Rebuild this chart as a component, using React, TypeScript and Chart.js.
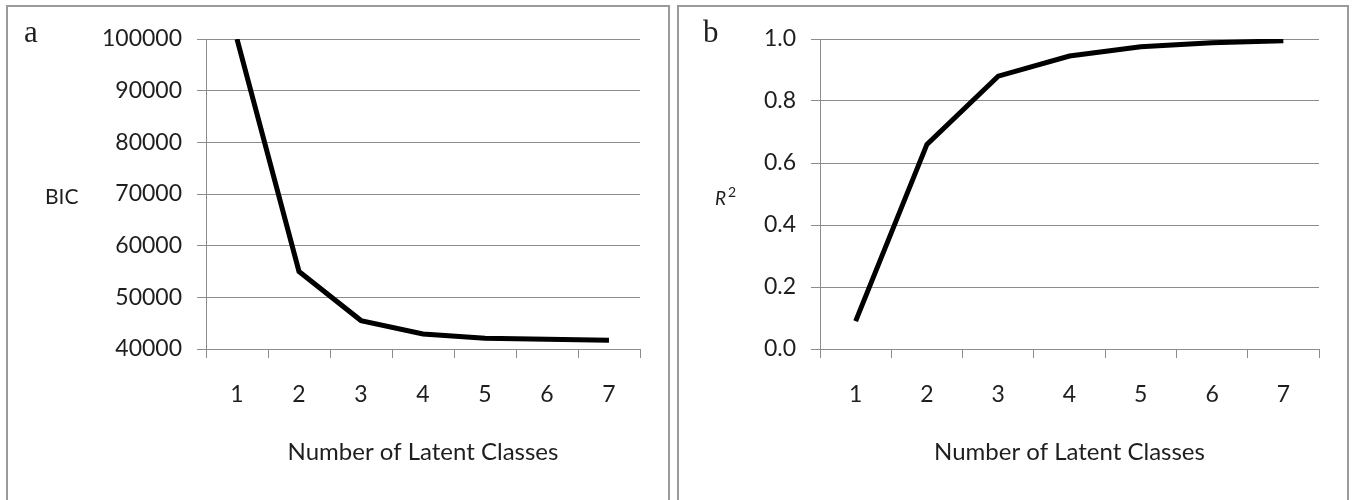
import React, { useEffect, useRef } from "react";
import { Chart, registerables } from "chart.js";

Chart.register(...registerables);

// ---- data ----
const classLabels = ["1", "2", "3", "4", "5", "6", "7"];
const bicValues = [100000, 55000, 45500, 42900, 42100, 41900, 41700];
const r2Values = [0.09, 0.66, 0.88, 0.945, 0.975, 0.988, 0.994];
const bicRange = { min: 40000, max: 100000, step: 10000 };
const r2Range = { min: 0, max: 1, step: 0.2 };
const xTitle = "Number of Latent Classes";

const GRID = "#8c8c8c";
const TEXT = "#1e1e1e";
const SANS = "Lato";

type TextItem = {
  text: string;
  x: number;
  y: number;
  font: string;
};

const textPlugin = {
  id: "panelText",
  afterDraw(chart: any, _args: any, opts: any) {
    const ctx = chart.ctx;
    ctx.save();
    ctx.fillStyle = TEXT;
    ctx.textAlign = "left";
    ctx.textBaseline = "alphabetic";
    (opts.items || []).forEach((it: TextItem) => {
      ctx.font = it.font;
      ctx.fillText(it.text, it.x, it.y);
    });
    ctx.restore();
  },
};

type PanelProps = {
  left: number;
  width: number;
  area: { left: number; right: number; top: number; bottom: number };
  values: number[];
  range: { min: number; max: number; step: number };
  format: (v: number) => string;
  texts: TextItem[];
};

const H = 493;

function Panel({ left, width, area, values, range, format, texts }: PanelProps) {
  const ref = useRef<HTMLCanvasElement | null>(null);
  useEffect(() => {
    if (!ref.current) return;
    const chart = new Chart(ref.current, {
      type: "line",
      data: {
        labels: classLabels,
        datasets: [
          {
            data: values,
            borderColor: "#000",
            borderWidth: 5,
            pointRadius: 0,
            tension: 0,
            fill: false,
          },
        ],
      },
      options: {
        responsive: false,
        animation: false,
        events: [],
        layout: {
          padding: { left: 0, top: area.top, right: width - area.right, bottom: 0 },
        },
        plugins: {
          legend: { display: false },
          tooltip: { enabled: false },
          panelText: { items: texts },
        } as any,
        scales: {
          x: {
            type: "category",
            offset: true,
            afterFit: (s: any) => {
              s.height = H - area.bottom;
            },
            grid: {
              offset: true,
              drawOnChartArea: false,
              drawTicks: true,
              tickLength: 9,
              color: GRID,
              lineWidth: 1,
            },
            border: { display: true, color: GRID, width: 1 },
            ticks: {
              color: TEXT,
              font: { family: SANS, size: 23 },
              padding: 23,
              maxRotation: 0,
            },
            title: {
              display: true,
              text: xTitle,
              color: TEXT,
              font: { family: SANS, size: 24 },
              padding: { top: 0, bottom: 33 },
            },
          },
          y: {
            min: range.min,
            max: range.max,
            afterFit: (s: any) => {
              s.width = area.left;
            },
            grid: {
              drawTicks: true,
              tickLength: 9,
              color: GRID,
              lineWidth: 1,
            },
            border: { display: true, color: GRID, width: 1 },
            ticks: {
              stepSize: range.step,
              color: TEXT,
              font: { family: SANS, size: 23 },
              padding: 15,
              callback: (v: any) => format(Number(v)),
            },
          },
        },
      } as any,
      plugins: [textPlugin],
    });
    return () => chart.destroy();
  }, []);
  return (
    <div
      style={{
        position: "absolute",
        left,
        top: 5,
        width,
        height: 520,
        border: "2px solid #9a9a9a",
        background: "#fff",
      }}
    >
      <canvas ref={ref} width={width} height={H} style={{ display: "block" }} />
    </div>
  );
}

export default function App() {
  return (
    <div
      style={{
        position: "fixed",
        left: 0,
        top: 0,
        width: 1355,
        height: 500,
        background: "#fff",
        overflow: "hidden",
      }}
    >
      <Panel
        left={6}
        width={660}
        area={{ left: 198, right: 632, top: 32, bottom: 342 }}
        values={bicValues}
        range={bicRange}
        format={(v) => String(Math.round(v))}
        texts={[
          { text: "a", x: 16, y: 35, font: "31px 'Liberation Serif'" },
          { text: "BIC", x: 37, y: 197, font: `21px ${SANS}` },
        ]}
      />
      <Panel
        left={677}
        width={668}
        area={{ left: 141, right: 640, top: 32, bottom: 342 }}
        values={r2Values}
        range={r2Range}
        format={(v) => v.toFixed(1)}
        texts={[
          { text: "b", x: 24, y: 35, font: "31px 'Liberation Serif'" },
          { text: "R", x: 36, y: 198, font: `italic 19px ${SANS}` },
          { text: "2", x: 49, y: 190, font: `14px ${SANS}` },
        ]}
      />
    </div>
  );
}
